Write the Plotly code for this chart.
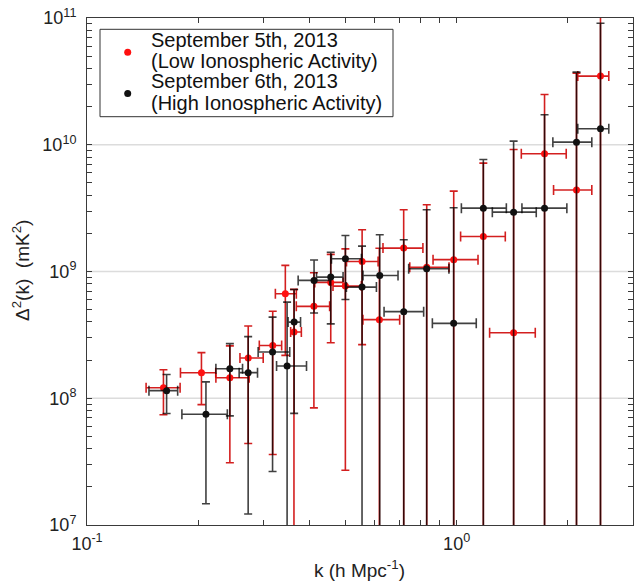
import math
import plotly.graph_objects as go

# ---- data (k in h/Mpc, Delta^2 in mK^2) ----
k_sep5 = [0.161, 0.204, 0.2435, 0.273, 0.318, 0.344, 0.363, 0.411, 0.4565, 0.500,
          0.555, 0.618, 0.719, 0.830, 0.982, 1.181, 1.426, 1.729, 2.110, 2.450]
kerr_minus_sep5 = [0.0165, 0.025, 0.0203, 0.0137, 0.0255, 0.0207, 0.0074, 0.0427, 0.0432, 0.0371,
                   0.0514, 0.0602, 0.087, 0.0832, 0.1187, 0.156, 0.198, 0.233, 0.281, 0.323]
kerr_plus_sep5 = [0.0176, 0.019, 0.0311, 0.0267, 0.0182, 0.0244, 0.0171, 0.0423, 0.0364, 0.0524,
                  0.0581, 0.0832, 0.0915, 0.1236, 0.1604, 0.173, 0.206, 0.25, 0.211, 0.13]
p_sep5 = [1.21e8, 1.59e8, 1.45e8, 2.08e8, 2.61e8, 6.68e8, 3.33e8, 5.31e8, 8.20e8, 7.67e8,
          1.20e9, 4.17e8, 1.53e9, 1.08e9, 1.24e9, 1.89e9, 3.29e8, 8.49e9, 4.39e9, 3.48e10]
perr_sep5 = [4.7e7, 7.0e7, 1.14e8, 1.64e8, 2.25e8, 4.5e8, 3.9e8, 4.47e8, 5.46e8, 7.4e8,
             9.35e8, 1.11e9, 1.54e9, 2.28e9, 3.07e9, 5.27e9, 8.85e9, 1.64e10, 3.23e10, 8.0e10]

k_sep6 = [0.1642, 0.2098, 0.2435, 0.2729, 0.3177, 0.3478, 0.3634, 0.4114, 0.4565, 0.5002,
          0.5547, 0.6194, 0.7193, 0.8296, 0.9815, 1.181, 1.426, 1.729, 2.110, 2.450]
kerr_minus_sep6 = [0.0171, 0.0292, 0.0203, 0.0149, 0.0273, 0.0221, 0.0134, 0.0388, 0.0388, 0.0417,
                   0.0514, 0.0613, 0.083, 0.0878, 0.1218, 0.151, 0.177, 0.227, 0.289, 0.323]
kerr_plus_sep6 = [0.0117, 0.0299, 0.020, 0.0164, 0.0359, 0.0447, 0.0148, 0.0423, 0.0364, 0.0524,
                  0.052, 0.0747, 0.095, 0.1236, 0.1485, 0.182, 0.216, 0.258, 0.211, 0.13]
p_sep6 = [1.148e8, 7.47e7, 1.711e8, 1.592e8, 2.314e8, 1.795e8, 3.99e8, 8.51e8, 9.03e8, 1.262e9,
          7.53e8, 9.31e8, 4.82e8, 1.052e9, 3.90e8, 3.16e9, 2.94e9, 3.16e9, 1.048e10, 1.337e10]
perr_sep6 = [3.9e7, 6.0e7, 9.85e7, 1.47e8, 2.05e8, 3.94e8, 3.23e8, 3.8e8, 5.17e8, 6.6e8,
             8.33e8, 1.02e9, 1.30e9, 2.02e9, 2.79e9, 4.49e9, 7.74e9, 1.41e10, 2.69e10, 7.76e10]

legend_lines_sep5 = ["September 5th, 2013", "(Low Ionospheric Activity)"]
legend_lines_sep6 = ["September 6th, 2013", "(High Ionospheric Activity)"]

x_decades = [-1, 0]
y_decades = [7, 8, 9, 10, 11]
x_title = "k (h Mpc<sup>-1</sup>)"
y_title = "\u0394<sup>2</sup>(k)  (mK<sup>2</sup>)"

FONT = "Liberation Sans, Arial, Helvetica, sans-serif"
AXCOL = "#3a3a3a"
TXT = "#222222"
RED_MK = "#ff1010"
RED_ERR = "rgba(205,0,0,0.88)"
BLK_MK = "#111111"
BLK_ERR = "rgba(0,0,0,0.75)"

W, H = 634, 585
ML, MR, MT, MB = 87, 1, 18, 60
PW, PH = W - ML - MR, H - MT - MB
X_RANGE = [-1, math.log10(3)]
Y_RANGE = [7, 11]


def px_x(p):
    return (p - ML) / PW


def px_y(p):
    return (H - MB - p) / PH


def log_ticks(decades):
    """decade ticks labelled 10^n, plus unlabelled 2..9 ticks in between."""
    vals, text = [], []
    for e in decades:
        vals.append(10.0 ** e)
        text.append("10<sup>%d</sup>" % e)
        for m in range(2, 10):
            vals.append(m * 10.0 ** e)
            text.append("")
    return vals, text


x_tickvals, x_ticktext = log_ticks(x_decades)
y_tickvals, y_ticktext = log_ticks(y_decades)

fig = go.Figure()
fig.add_trace(go.Scatter(
    x=k_sep5, y=p_sep5, mode="markers", name=" ".join(legend_lines_sep5), showlegend=False,
    marker=dict(color=RED_MK, size=7),
    error_x=dict(type="data", symmetric=False, array=kerr_plus_sep5,
                 arrayminus=kerr_minus_sep5, color=RED_ERR, thickness=1.6, width=5),
    error_y=dict(type="data", array=perr_sep5, color=RED_ERR, thickness=1.6, width=4),
))
fig.add_trace(go.Scatter(
    x=k_sep6, y=p_sep6, mode="markers", name=" ".join(legend_lines_sep6), showlegend=False,
    marker=dict(color=BLK_MK, size=7),
    error_x=dict(type="data", symmetric=False, array=kerr_plus_sep6,
                 arrayminus=kerr_minus_sep6, color=BLK_ERR, thickness=1.6, width=5),
    error_y=dict(type="data", array=perr_sep6, color=BLK_ERR, thickness=1.6, width=4),
))

axis_common = dict(
    type="log", automargin=False, tickmode="array",
    ticks="inside", ticklen=5, tickwidth=1, tickcolor=AXCOL,
    showline=True, linecolor=AXCOL, linewidth=1, mirror="allticks",
    tickfont=dict(size=18, color=TXT, family=FONT),
    showgrid=False, zeroline=False,
)

# ---- horizontal grid at the decades (below the data) ----
shapes = [dict(type="line", xref="paper", yref="y", x0=0, x1=1, y0=10.0 ** e, y1=10.0 ** e,
               line=dict(color="#dcdcdc", width=1.5), layer="below")
          for e in y_decades[1:-1]]

# ---- legend box (drawn in paper space) ----
shapes.append(dict(type="rect", xref="paper", yref="paper",
                   x0=px_x(100), x1=px_x(393), y0=px_y(116.7), y1=px_y(29.3),
                   line=dict(color="#333333", width=1), fillcolor="white", layer="above"))
annotations = []
entries = [(legend_lines_sep5, RED_MK, 52.3, [39.7, 61.0]),
           (legend_lines_sep6, BLK_MK, 93.5, [81.3, 102.8])]
r = 3.5
for lines, col, cy, ys in entries:
    shapes.append(dict(type="circle", xref="paper", yref="paper",
                       x0=px_x(127.7 - r), x1=px_x(127.7 + r),
                       y0=px_y(cy + r), y1=px_y(cy - r),
                       fillcolor=col, line=dict(color=col, width=0), layer="above"))
    for txt, yy in zip(lines, ys):
        annotations.append(dict(xref="paper", yref="paper", x=px_x(150), y=px_y(yy),
                                xanchor="left", yanchor="middle", text=txt, showarrow=False,
                                borderpad=0, font=dict(size=20, family=FONT, color="#111111")))

# axis titles
annotations.append(dict(xref="paper", yref="paper", x=px_x(359), y=px_y(582),
                        xanchor="center", yanchor="bottom", text=x_title, showarrow=False,
                        borderpad=0, font=dict(size=19, family=FONT, color=TXT)))
annotations.append(dict(xref="paper", yref="paper", x=px_x(21), y=px_y(271),
                        xanchor="center", yanchor="middle", text=y_title, textangle=-90,
                        showarrow=False, borderpad=0,
                        font=dict(size=19, family=FONT, color=TXT)))

fig.update_layout(
    width=W, height=H,
    margin=dict(l=ML, r=MR, t=MT, b=MB),
    paper_bgcolor="white", plot_bgcolor="white",
    font=dict(family=FONT, color=TXT),
    showlegend=False,
    shapes=shapes, annotations=annotations,
    xaxis=dict(axis_common, range=X_RANGE, tickvals=x_tickvals, ticktext=x_ticktext,
               ticklabelstandoff=2),
    yaxis=dict(axis_common, range=Y_RANGE, tickvals=y_tickvals, ticktext=y_ticktext,
               ticklabelstandoff=6),
)

fig.write_html("out.html", config={"displayModeBar": False},
               post_script="document.body.style.margin='0px';document.body.style.overflow='hidden';")
